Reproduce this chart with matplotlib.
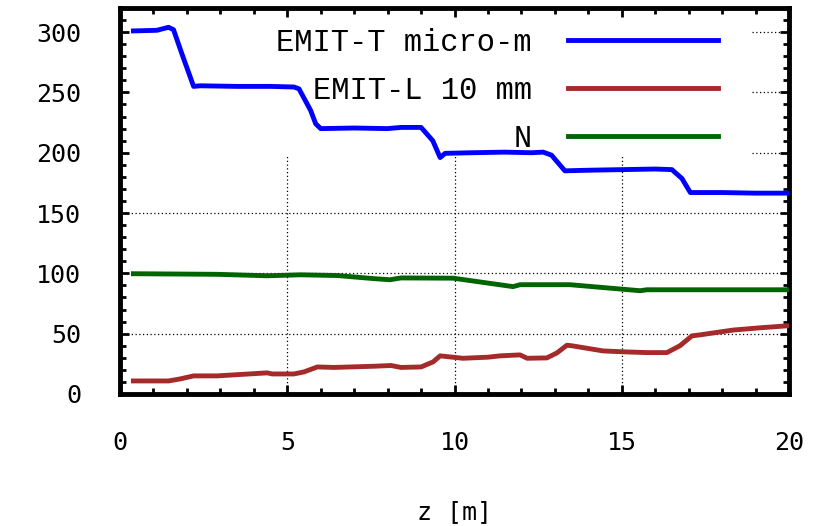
import matplotlib.pyplot as plt
from matplotlib.ticker import MultipleLocator

# values
z_t = [0.4, 1.1, 1.45, 1.6, 1.85, 2.2, 2.4, 3.5, 4.5, 5.2, 5.35, 5.7, 5.85, 6.0,
       7.0, 8.0, 8.4, 9.0, 9.35, 9.57, 9.72, 10.5, 11.5, 12.3, 12.65, 12.9, 13.3,
       14.0, 15.0, 16.0, 16.5, 16.8, 17.05, 18.0, 19.0, 19.95]
emit_t = [301, 301.5, 304, 302, 282, 255, 255.5, 255, 255, 254.5, 253, 235, 224, 220,
          220.5, 220, 221, 221, 210, 196, 199.5, 200, 200.5, 200, 200.5, 198, 185,
          185.5, 186, 186.5, 186, 178.6, 167, 167, 166.5, 166.5]

z_l = [0.4, 1.45, 1.8, 2.2, 2.9, 3.5, 4.4, 4.55, 5.2, 5.5, 5.9, 6.4, 7.0, 7.6, 8.1,
       8.4, 9.0, 9.36, 9.57, 10.25, 11.0, 11.36, 11.96, 12.17, 12.76, 13.06, 13.36,
       13.5, 14.44, 15.0, 15.75, 16.35, 16.74, 17.1, 17.34, 18.33, 19.2, 19.95]
emit_l = [10.8, 10.8, 12.5, 15, 15, 16, 17.5, 16.6, 16.6, 18.3, 22.4, 22, 22.5, 23, 23.6,
          22, 22.4, 26.6, 31.6, 29.6, 30.5, 31.6, 32.4, 29.6, 29.9, 34, 40.4,
          40, 35.7, 35, 34.3, 34.3, 40, 48.2, 49, 53, 55, 56.5]

z_n = [0.4, 2.9, 4.4, 5.4, 6.5, 7.6, 8.07, 8.4, 9.96, 11.75, 11.96, 13.45, 15.55, 15.75, 19.95]
n_part = [99.7, 99.2, 98, 98.8, 98.2, 95.6, 94.7, 96.2, 96, 89, 90.6, 90.6, 85.6, 86.4, 86.4]

labels = ["EMIT-T micro-m", "EMIT-L 10 mm", "N"]
colors = ["#0000ff", "#a52a2a", "#006400"]

fig = plt.figure(figsize=(8.26, 5.26), dpi=100)
ax = fig.add_axes([0.1453, 0.251, 0.8099, 0.7338])

# dotted grid, hidden where the key sits (gnuplot opaque key)
grid = dict(color="black", lw=0.9, ls=(0, (1, 2)), zorder=1)
for yv in [50, 100, 150]:
    ax.axhline(yv, **grid)
for yv in [200, 250, 300]:
    ax.axhline(yv, xmin=0.945, **grid)
for xv in [5, 10, 15]:
    ax.axvline(xv, ymax=0.619, **grid)

ax.plot(z_t, emit_t, color=colors[0], lw=3.5, label=labels[0], zorder=3)
ax.plot(z_l, emit_l, color=colors[1], lw=3.5, label=labels[1], zorder=3)
ax.plot(z_n, n_part, color=colors[2], lw=3.5, label=labels[2], zorder=3)

ax.set_xlim(0, 20)
ax.set_ylim(0, 320)
ax.set_yticks([0, 50, 100, 150, 200, 250, 300])
ax.set_xticks([0, 5, 10, 15, 20])
ax.xaxis.set_minor_locator(MultipleLocator(1))
ax.yaxis.set_minor_locator(MultipleLocator(10))

for s in ax.spines.values():
    s.set_linewidth(3.5)

ax.tick_params(which="both", direction="in", top=True, right=True, width=2)
ax.tick_params(which="major", length=6.5)
ax.tick_params(which="minor", length=4)
ax.tick_params(axis="y", which="major", pad=28)
ax.tick_params(axis="x", which="major", pad=27)
for lab in ax.get_xticklabels() + ax.get_yticklabels():
    lab.set_fontfamily("DejaVu Sans Mono")
    lab.set_fontsize(18)

ax.set_xlabel("z [m]", fontfamily="DejaVu Sans Mono", fontsize=18)
ax.xaxis.set_label_coords(0.5, -0.275)

leg = ax.legend(loc="upper right", bbox_to_anchor=(0.894, 0.948), frameon=False,
                markerfirst=False, prop={"family": "Liberation Mono", "size": 22},
                handlelength=4.9, handletextpad=1.2, labelspacing=0.58,
                borderpad=0, borderaxespad=0)
for t in leg.get_texts():
    t.set_ha("right")

fig.savefig("out.png", dpi=100)
